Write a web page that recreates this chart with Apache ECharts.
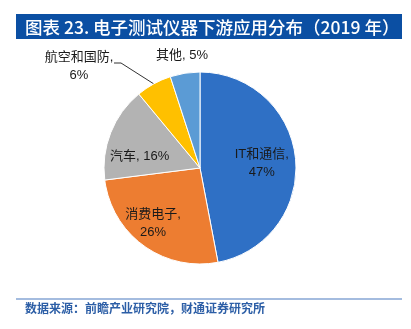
<!DOCTYPE html>
<html>
<head>
<meta charset="utf-8">
<script src="https://cdn.jsdelivr.net/npm/echarts@6/dist/echarts.min.js"></script>
<style>
  html, body { margin: 0; padding: 0; background: #ffffff; }
  #chart { width: 411px; height: 329px; }
</style>
</head>
<body>
<div id="chart"></div>
<script>
// Downstream application shares of electronic test instruments, 2019 (%)
const categories = ['IT和通信', '消费电子', '汽车', '航空和国防', '其他'];
const shares = [47, 26, 16, 6, 5];
// whether a label breaks its percentage onto a second line
const wrapLabel = [true, true, false, true, false];

const titleText = '图表 23. 电子测试仪器下游应用分布（2019 年）';
const sourceText = '数据来源：前瞻产业研究院，财通证券研究所';

const colors = ['#2f70c5', '#ed7d31', '#b3b3b3', '#ffc000', '#5b9bd5'];
const latinCjk = '"Liberation Sans", "Noto Sans CJK SC", sans-serif';
const narrowCjk = '"Liberation Sans Narrow", "Noto Sans CJK SC", sans-serif';

const chart = echarts.init(document.getElementById('chart'), null, { renderer: 'canvas' });

const pieData = categories.map((name, i) => ({
  name: name,
  value: shares[i],
  itemStyle: { color: colors[i] },
  label: { position: i < 3 ? 'inside' : 'outside' },
  labelLine: { show: i === 3 }
}));

chart.setOption({
  animation: false,
  backgroundColor: '#ffffff',
  graphic: [
    { type: 'rect', shape: { x: 16, y: 14, width: 386, height: 25 }, style: { fill: '#0b4fa3' } },
    { type: 'text', x: 25, y: 27, style: {
        text: titleText, fill: '#ffffff', font: '500 17.5px ' + narrowCjk,
        verticalAlign: 'middle', align: 'left' } },
    { type: 'line', shape: { x1: 16, y1: 299, x2: 402, y2: 299 },
      style: { stroke: '#4a7bbf', lineWidth: 1.2 } },
    { type: 'text', x: 25, y: 310, style: {
        text: sourceText, fill: '#2c5ea6', font: 'bold 12px ' + latinCjk,
        verticalAlign: 'middle', align: 'left' } }
  ],
  series: [{
    type: 'pie',
    center: [200, 168],
    radius: [0, 96],
    startAngle: 90,
    clockwise: true,
    data: pieData,
    itemStyle: { borderColor: '#ffffff', borderWidth: 1 },
    label: {
      show: true,
      color: '#1a1a1a',
      fontSize: 13,
      lineHeight: 18,
      fontFamily: latinCjk,
      formatter: p => p.name + ',' + (wrapLabel[p.dataIndex] ? '\n' : ' ') + p.value + '%'
    },
    labelLine: {
      show: true,
      length: 20,
      length2: 8,
      lineStyle: { color: '#333333', width: 1 }
    },
    labelLayout: function (params) {
      const i = params.dataIndex;
      if (i === 0) return { dx: 11, dy: 0 };
      if (i === 1) return { dx: -17, dy: 14 };
      if (i === 2) return { dx: -13, dy: 7 };
      if (i === 3) {
        const start = params.labelLinePoints ? params.labelLinePoints[0] : [154, 84];
        return {
          x: 79, y: 66, align: 'center', verticalAlign: 'middle',
          labelLinePoints: [start, [121, 63], [114, 63]]
        };
      }
      return { x: 182, y: 55, align: 'center', verticalAlign: 'middle' };
    }
  }]
});
</script>
</body>
</html>
